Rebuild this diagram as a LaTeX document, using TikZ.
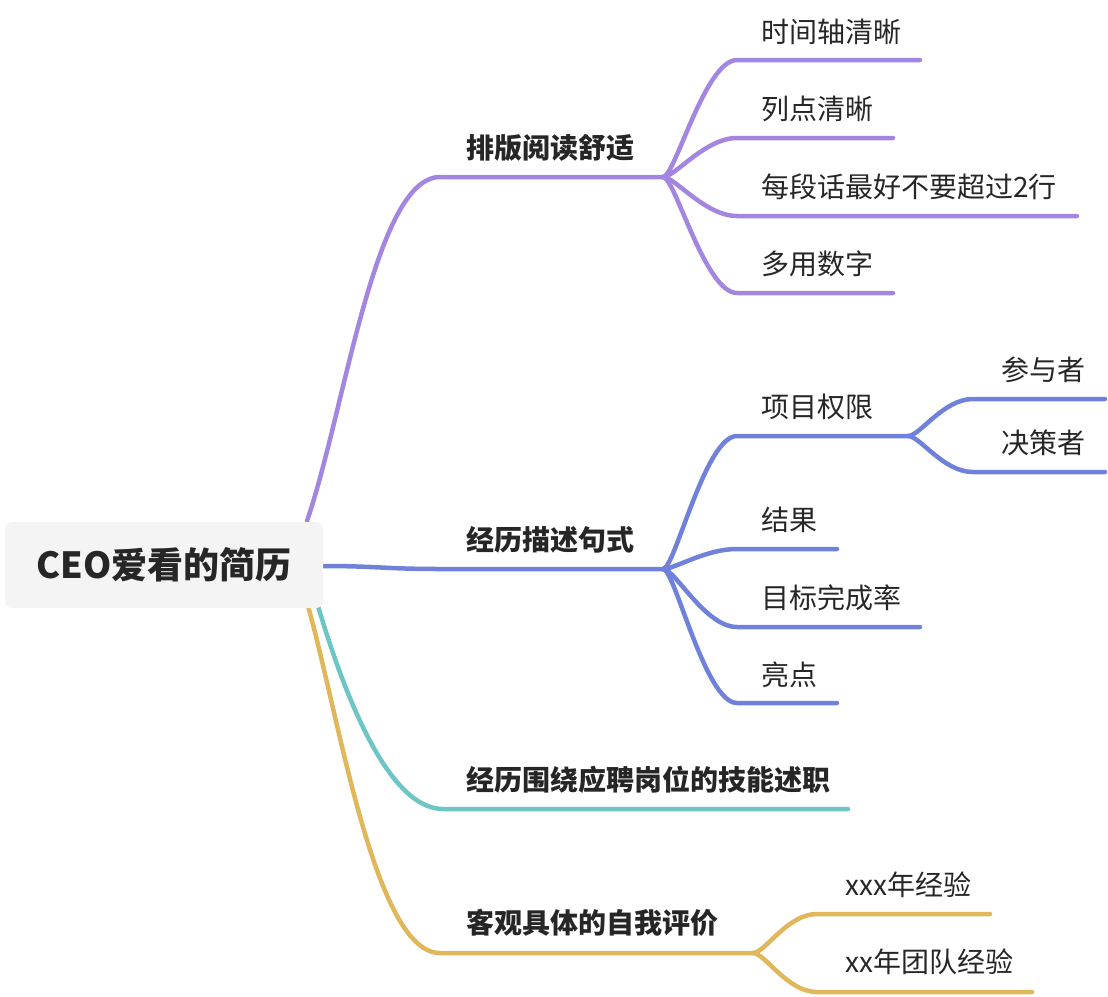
\documentclass[tikz,border=0pt]{standalone}
\usepackage{fontspec}
\setmainfont{Noto Sans CJK SC}
\usetikzlibrary{calc}
\definecolor{cpur}{HTML}{A386E0}
\definecolor{cblu}{HTML}{6F81DB}
\definecolor{ctea}{HTML}{6DC6C5}
\definecolor{cgol}{HTML}{E0B75A}
\definecolor{ctxt}{HTML}{262626}
\definecolor{cbox}{HTML}{F4F4F4}
\tikzset{
  br/.style={line width=4.5pt, line cap=round, line join=round},
  pur/.style={br, draw=cpur},
  blu/.style={br, draw=cblu},
  tea/.style={br, draw=ctea},
  gol/.style={br, draw=cgol},
  lbl/.style={anchor=west, inner sep=0pt, text=ctxt, font=\fontsize{28}{32}\selectfont},
  mainlbl/.style={lbl, font=\fontsize{28}{32}\selectfont\bfseries},
  rootbox/.style={fill=cbox, rounded corners=7pt, minimum width=318pt, minimum height=86pt, inner sep=0pt, text=ctxt, font=\fontsize{36}{40}\selectfont\bfseries}
}
\begin{document}
\begin{tikzpicture}[x=1pt,y=-1pt]
\useasboundingbox (0,0) rectangle (1108,996);
% --- coordinates
\coordinate (rt) at (307,521);
\coordinate (rr) at (322,566);
\coordinate (rb1) at (318,606);
\coordinate (rb2) at (308,606);
\coordinate (m1) at (440,177);
\coordinate (f1) at (663,177);
\coordinate (m2) at (440,569);
\coordinate (f2) at (663,569);
\coordinate (m3) at (443,809);
\coordinate (e3) at (848,809);
\coordinate (m4) at (440,953);
\coordinate (f4) at (753,953);
% purple children
\coordinate (c11) at (737,60);  \coordinate (e11) at (920,60);
\coordinate (c12) at (737,138); \coordinate (e12) at (893,138);
\coordinate (c13) at (737,216); \coordinate (e13) at (1077,216);
\coordinate (c14) at (737,293); \coordinate (e14) at (893,293);
% blue children
\coordinate (c21) at (737,436); \coordinate (g21) at (908,436);
\coordinate (c22) at (737,549); \coordinate (e22) at (837,549);
\coordinate (c23) at (737,627); \coordinate (e23) at (920,627);
\coordinate (c24) at (737,703); \coordinate (e24) at (837,703);
\coordinate (d1) at (973,399); \coordinate (k1) at (1105,399);
\coordinate (d2) at (973,472); \coordinate (k2) at (1105,472);
% gold children
\coordinate (c41) at (817,914); \coordinate (e41) at (990,914);
\coordinate (c42) at (817,992); \coordinate (e42) at (1032,992);
% --- main branches
\draw[pur] (rt) .. controls (345,410) and (375,177) .. (m1) -- (f1);
\draw[blu] (rr) .. controls +(55,0) and +(-55,0) .. (m2) -- (f2);
\draw[tea] (rb1) .. controls (340,680) and (385,809) .. (m3) -- (e3);
\draw[gol] (rb2) .. controls (340,720) and (375,953) .. (m4) -- (f4);
% --- purple sub-branches
\foreach \c/\e in {c11/e11,c12/e12,c13/e13,c14/e14}
  \draw[pur] (f1) .. controls +(12,0) and +(-32,0) .. (\c) -- (\e);
% --- blue sub-branches
\draw[blu] (f2) .. controls +(12,0) and +(-32,0) .. (c21) -- (g21);
\foreach \c/\e in {c22/e22,c23/e23,c24/e24}
  \draw[blu] (f2) .. controls +(12,0) and +(-32,0) .. (\c) -- (\e);
\foreach \c/\e in {d1/k1,d2/k2}
  \draw[blu] (g21) .. controls +(12,0) and +(-30,0) .. (\c) -- (\e);
% --- gold sub-branches
\foreach \c/\e in {c41/e41,c42/e42}
  \draw[gol] (f4) .. controls +(12,0) and +(-30,0) .. (\c) -- (\e);
% --- root
\node[rootbox] (root) at (164,565) {CEO爱看的简历};
% --- labels
\node[mainlbl] (t1) at (466,148) {排版阅读舒适};
\node[mainlbl] (t2) at (466,540) {经历描述句式};
\node[mainlbl] (t3) at (466,780) {经历围绕应聘岗位的技能述职};
\node[mainlbl] (t4) at (466,923) {客观具体的自我评价};
\node[lbl] (t11) at (761,32) {时间轴清晰};
\node[lbl] (t12) at (761,109) {列点清晰};
\node[lbl] (t13) at (761,187) {每段话最好不要超过2行};
\node[lbl] (t14) at (761,264) {多用数字};
\node[lbl] (t21) at (761,407) {项目权限};
\node[lbl] (t22) at (761,520) {结果};
\node[lbl] (t23) at (761,598) {目标完成率};
\node[lbl] (t24) at (761,675) {亮点};
\node[lbl] (t211) at (1001,370) {参与者};
\node[lbl] (t212) at (1001,443) {决策者};
\node[lbl] (t41) at (845,885) {xxx年经验};
\node[lbl] (t42) at (845,962) {xx年团队经验};
\end{tikzpicture}
\end{document}
